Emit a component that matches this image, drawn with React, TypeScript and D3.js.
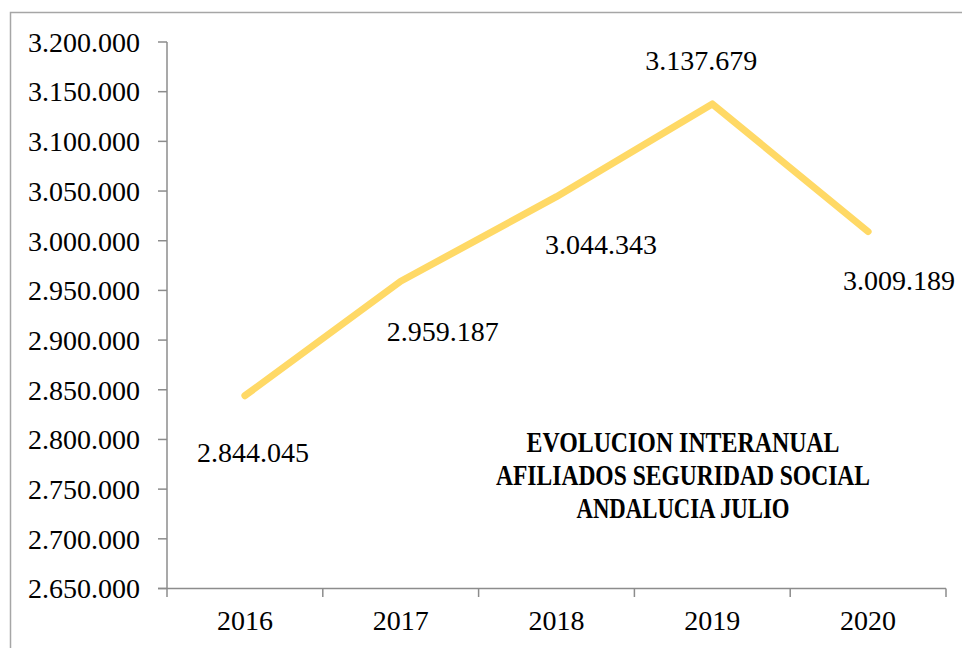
import React from "react";
import * as d3 from "d3";

const years: string[] = ["2016", "2017", "2018", "2019", "2020"];
const afiliados: number[] = [2844045, 2959187, 3044343, 3137679, 3009189];
const yTicks: number[] = [2650000, 2700000, 2750000, 2800000, 2850000, 2900000, 2950000, 3000000, 3050000, 3100000, 3150000, 3200000];
const titleLines: string[] = ["EVOLUCION INTERANUAL", "AFILIADOS SEGURIDAD SOCIAL", "ANDALUCIA JULIO"];

// label placement offsets (layout only)
const labelDx: number[] = [8, 42, 44.5, -11, 31];
const labelDy: number[] = [66, 60, 57, -34, 58];
const titleWidths: number[] = [313, 374, 213];

const W = 962;
const H = 648;
const left = 167;
const right = 946;
const top = 42;
const bottom = 588.5;

const locale = d3.formatLocale({ decimal: ",", thousands: ".", grouping: [3], currency: ["", "€"] });
const fmt = locale.format(",d");

export default function App() {
  const x = d3.scaleBand<string>().domain(years).range([left, right]).paddingInner(0).paddingOuter(0);
  const y = d3.scaleLinear().domain([2650000, 3200000]).range([bottom, top]);
  const cx = (d: string) => (x(d) as number) + x.bandwidth() / 2;
  const line = d3
    .line<number>()
    .x((_, i) => cx(years[i]))
    .y((v) => y(v));
  const font = "'Liberation Serif', 'Times New Roman', serif";
  const axisColor = "#8c8c8c";
  const boundaries = years.map((d) => x(d) as number).concat([right]);

  return (
    <svg width={W} height={H} style={{ position: "absolute", left: 0, top: 0, background: "#fff" }} fontFamily={font}>
      <rect x={10.5} y={12.5} width={W + 10} height={H + 10} fill="none" stroke="#a6a6a6" strokeWidth={1.5} />
      {/* y axis */}
      <line x1={left} x2={left} y1={top} y2={bottom} stroke={axisColor} strokeWidth={1.5} />
      {yTicks.map((t) => (
        <g key={t}>
          <line x1={left - 9} x2={left} y1={y(t)} y2={y(t)} stroke={axisColor} strokeWidth={1.5} />
          <text x={140} y={y(t)} dy="0.35em" textAnchor="end" fontSize={28} fill="#000">
            {fmt(t)}
          </text>
        </g>
      ))}
      {/* x axis */}
      <line x1={left - 9} x2={right} y1={bottom} y2={bottom} stroke={axisColor} strokeWidth={1.5} />
      {boundaries.map((b, i) => (
        <line key={i} x1={b} x2={b} y1={bottom} y2={bottom + 8.5} stroke={axisColor} strokeWidth={1.5} />
      ))}
      {years.map((d) => (
        <text key={d} x={cx(d)} y={630} textAnchor="middle" fontSize={28} fill="#000">
          {d}
        </text>
      ))}
      {/* series */}
      <path d={line(afiliados) || ""} fill="none" stroke="#FFD966" strokeWidth={7} strokeLinecap="round" strokeLinejoin="round" />
      {afiliados.map((v, i) => (
        <text key={i} x={cx(years[i]) + labelDx[i]} y={y(v) + labelDy[i]} textAnchor="middle" fontSize={28} fill="#000">
          {fmt(v)}
        </text>
      ))}
      {/* title */}
      {titleLines.map((t, i) => (
        <text
          key={t}
          x={683}
          y={452 + i * 33}
          textAnchor="middle"
          fontSize={29.5}
          fontWeight="bold"
          textLength={titleWidths[i]}
          lengthAdjust="spacingAndGlyphs"
          fill="#000"
        >
          {t}
        </text>
      ))}
    </svg>
  );
}
